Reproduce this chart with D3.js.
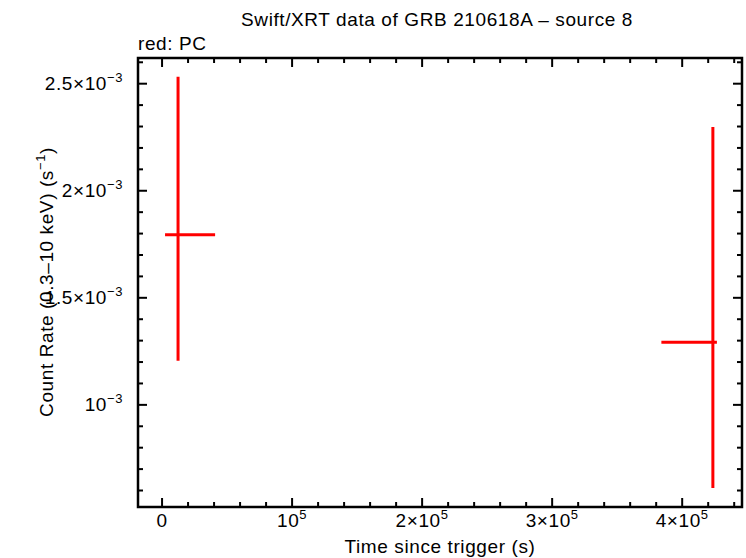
<!DOCTYPE html>
<html><head><meta charset="utf-8">
<script src="https://cdn.jsdelivr.net/npm/d3@7"></script>
<style>
body{margin:0;background:#fff;}
text{font-family:"Liberation Sans",Arial,Helvetica,sans-serif;fill:#000;letter-spacing:0.6px;}
</style></head>
<body>
<svg id="c" width="746" height="558"></svg>
<script>
// data: time (s), time error minus/plus, rate, rate error minus/plus
const times = [12300, 423600];
const timeLo = [2300, 384000];
const timeHi = [40800, 426700];
const rates = [1.794e-3, 1.293e-3];
const rateLo = [1.206e-3, 0.612e-3];
const rateHi = [2.533e-3, 2.298e-3];

const xMajor = [0, 1e5, 2e5, 3e5, 4e5];
const xLabels = ["0", "10^5", "2×10^5", "3×10^5", "4×10^5"];
const yMajor = [1e-3, 1.5e-3, 2e-3, 2.5e-3];
const yLabels = ["10^−3", "1.5×10^−3", "2×10^−3", "2.5×10^−3"];

const svg = d3.select("#c");
const L = 138, R = 742, T = 58, B = 507;
const x = d3.scaleLinear().domain([-18500, 446000]).range([L, R]);
const y = d3.scaleLinear().domain([0.523e-3, 2.62e-3]).range([B, T]);

// ticks
const xMinor = d3.range(0, 446000, 20000);
const yMinor = d3.range(6e-4, 2.62e-3, 1e-4);
const g = svg.append("g").attr("stroke", "#000").attr("stroke-width", 2);
xMinor.forEach(v => {
  const len = xMajor.some(a => Math.abs(a - v) < 1) ? 9 : 5;
  g.append("line").attr("x1", x(v)).attr("x2", x(v)).attr("y1", B).attr("y2", B - len);
  g.append("line").attr("x1", x(v)).attr("x2", x(v)).attr("y1", T).attr("y2", T + len);
});
yMinor.forEach(v => {
  const len = yMajor.some(a => Math.abs(a - v) < 1e-8) ? 9 : 5;
  g.append("line").attr("y1", y(v)).attr("y2", y(v)).attr("x1", L).attr("x2", L + len);
  g.append("line").attr("y1", y(v)).attr("y2", y(v)).attr("x1", R).attr("x2", R - len);
});
svg.append("rect").attr("x", L).attr("y", T).attr("width", R - L).attr("height", B - T)
  .attr("fill", "none").attr("stroke", "#000").attr("stroke-width", 2.5);

function label(sel, s){
  const parts = s.split("^");
  sel.append("tspan").text(parts[0]);
  if (parts[1]) sel.append("tspan").attr("dy", -8).attr("font-size", 13).text(parts[1]);
}
xMajor.forEach((v, i) => {
  const t = svg.append("text").attr("x", x(v)).attr("y", 527).attr("text-anchor", "middle").attr("font-size", 19);
  label(t, xLabels[i]);
});
yMajor.forEach((v, i) => {
  const t = svg.append("text").attr("x", 123).attr("y", y(v) + 6).attr("text-anchor", "end").attr("font-size", 19);
  label(t, yLabels[i]);
});

// data
const d = svg.append("g").attr("stroke", "#ff0000").attr("stroke-width", 3);
times.forEach((t, i) => {
  d.append("line").attr("x1", x(timeLo[i])).attr("x2", x(timeHi[i])).attr("y1", y(rates[i])).attr("y2", y(rates[i]));
  d.append("line").attr("x1", x(t)).attr("x2", x(t)).attr("y1", y(rateLo[i])).attr("y2", y(rateHi[i]));
});

svg.append("text").attr("x", 437).attr("y", 26).attr("text-anchor", "middle").attr("font-size", 19)
  .text("Swift/XRT data of GRB 210618A – source 8");
svg.append("text").attr("x", 138).attr("y", 50).attr("font-size", 19).text("red: PC");
svg.append("text").attr("x", 440).attr("y", 553).attr("text-anchor", "middle").attr("font-size", 19)
  .text("Time since trigger (s)");
const yl = svg.append("text").attr("transform", "translate(53,282) rotate(-90)").attr("text-anchor", "middle").attr("font-size", 19);
yl.append("tspan").text("Count Rate (0.3–10 keV) (s");
yl.append("tspan").attr("dy", -8).attr("font-size", 13).text("−1");
yl.append("tspan").attr("dy", 8).text(")");
</script>
</body></html>
